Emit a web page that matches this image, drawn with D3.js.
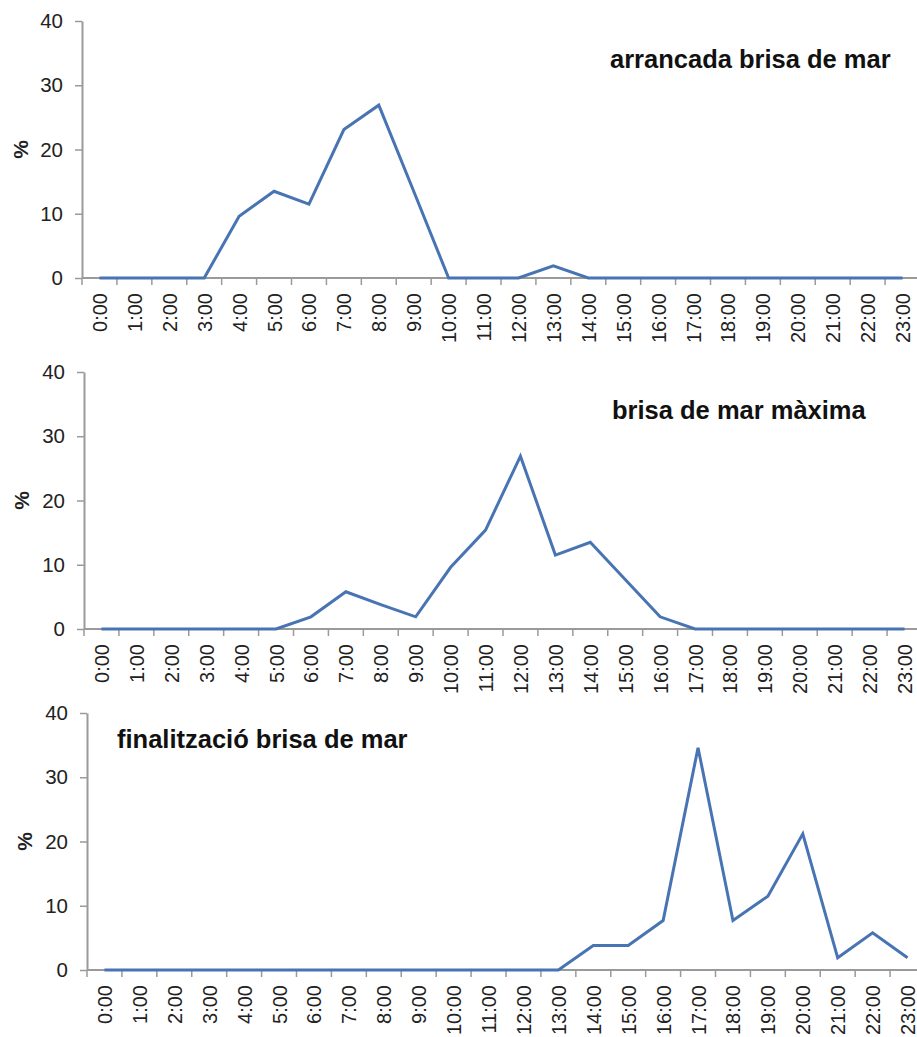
<!DOCTYPE html>
<html>
<head>
<meta charset="utf-8">
<script src="https://cdn.jsdelivr.net/npm/d3@7"></script>
<style>
    body { margin: 0; background: #fff; }
    svg { display: block; font-family: "Liberation Sans", Arial, sans-serif; }
</style>
</head>
<body>
<div id="chart"></div>
<script>

var hours = ["0:00", "1:00", "2:00", "3:00", "4:00", "5:00", "6:00", "7:00", "8:00", "9:00", "10:00", "11:00",
    "12:00", "13:00", "14:00", "15:00", "16:00", "17:00", "18:00", "19:00", "20:00", "21:00", "22:00", "23:00"];

// % of days (52 cases) per hour
var arrancada = [0, 0, 0, 0, 9.6, 13.5, 11.5, 23.1, 26.9, 13.5, 0, 0, 0, 1.9, 0, 0, 0, 0, 0, 0, 0, 0, 0, 0];
var maxima = [0, 0, 0, 0, 0, 0, 1.9, 5.8, 3.8, 1.9, 9.6, 15.4, 26.9, 11.5, 13.5, 7.7, 1.9, 0, 0, 0, 0, 0, 0, 0];
var finalitzacio = [0, 0, 0, 0, 0, 0, 0, 0, 0, 0, 0, 0, 0, 0, 3.8, 3.8, 7.7, 34.6, 7.7, 11.5, 21.2, 1.9, 5.8, 1.9];

var titles = ["arrancada brisa de mar", "brisa de mar màxima", "finalització brisa de mar"];
var yTicks = [0, 10, 20, 30, 40];
var yLabel = "%";

var lineColor = "#4874b3";
var axisColor = "#9a9a9a";

var panels = [
    { values: arrancada, title: titles[0], left: 82, top: 21, bottom: 278, tx: 610, ty: 68, px: 21 },
    { values: maxima, title: titles[1], left: 84, top: 372, bottom: 629, tx: 612, ty: 419, px: 22 },
    { values: finalitzacio, title: titles[2], left: 87, top: 713, bottom: 970, tx: 117, ty: 748, px: 25 }
];

var svg = d3.select("#chart").append("svg")
    .attr("width", 917)
    .attr("height", 1037);

panels.forEach(function (p) {
    var x = d3.scalePoint()
        .domain(hours)
        .range([p.left, p.left + 838])
        .padding(0.5);
    var step = x.step();

    var y = d3.scaleLinear()
        .domain([0, 40])
        .range([p.bottom, p.top]);

    var g = svg.append("g");

    // y axis
    var yAxis = g.append("g")
        .attr("transform", "translate(" + p.left + ",0)")
        .call(d3.axisLeft(y).tickValues(yTicks).tickSize(7).tickPadding(12).tickSizeOuter(0));
    yAxis.select(".domain").attr("stroke", axisColor).attr("stroke-width", 2);
    yAxis.selectAll(".tick line").attr("stroke", axisColor).attr("stroke-width", 1.5);
    yAxis.selectAll(".tick text")
        .attr("fill", "#222")
        .style("font-size", "20.5px");

    // x axis (labels at points, ticks between categories)
    var xAxis = g.append("g")
        .attr("transform", "translate(0," + p.bottom + ")")
        .call(d3.axisBottom(x).tickSize(0).tickPadding(0));
    xAxis.select(".domain").remove();
    xAxis.selectAll(".tick text")
        .attr("fill", "#222")
        .style("font-size", "20px")
        .attr("text-anchor", "end")
        .attr("transform", "translate(0,15) rotate(-90)")
        .attr("x", 0)
        .attr("y", 0)
        .attr("dy", "0.35em");

    g.append("line")
        .attr("x1", p.left)
        .attr("x2", 917)
        .attr("y1", p.bottom)
        .attr("y2", p.bottom)
        .attr("stroke", axisColor)
        .attr("stroke-width", 2);

    g.selectAll(".xtick")
        .data(hours)
        .enter().append("line")
        .attr("class", "xtick")
        .attr("x1", function (d) { return x(d) - step / 2; })
        .attr("x2", function (d) { return x(d) - step / 2; })
        .attr("y1", p.bottom)
        .attr("y2", p.bottom + 7)
        .attr("stroke", axisColor)
        .attr("stroke-width", 1.5);

    // % label
    g.append("text")
        .attr("transform", "translate(" + p.px + "," + ((p.top + p.bottom) / 2) + ") rotate(-90)")
        .attr("text-anchor", "middle")
        .attr("dy", "0.35em")
        .style("font-size", "21px")
        .style("font-weight", "bold")
        .attr("fill", "#222")
        .text(yLabel);

    // line
    var line = d3.line()
        .x(function (d, i) { return x(hours[i]); })
        .y(function (d) { return y(d); });

    g.append("path")
        .datum(p.values)
        .attr("fill", "none")
        .attr("stroke", lineColor)
        .attr("stroke-width", 3)
        .attr("stroke-linejoin", "miter")
        .attr("d", line);

    // title
    g.append("text")
        .attr("x", p.tx)
        .attr("y", p.ty)
        .style("font-size", "25.5px")
        .style("font-weight", "bold")
        .attr("fill", "#111")
        .text(p.title);
});

</script>
</body>
</html>
